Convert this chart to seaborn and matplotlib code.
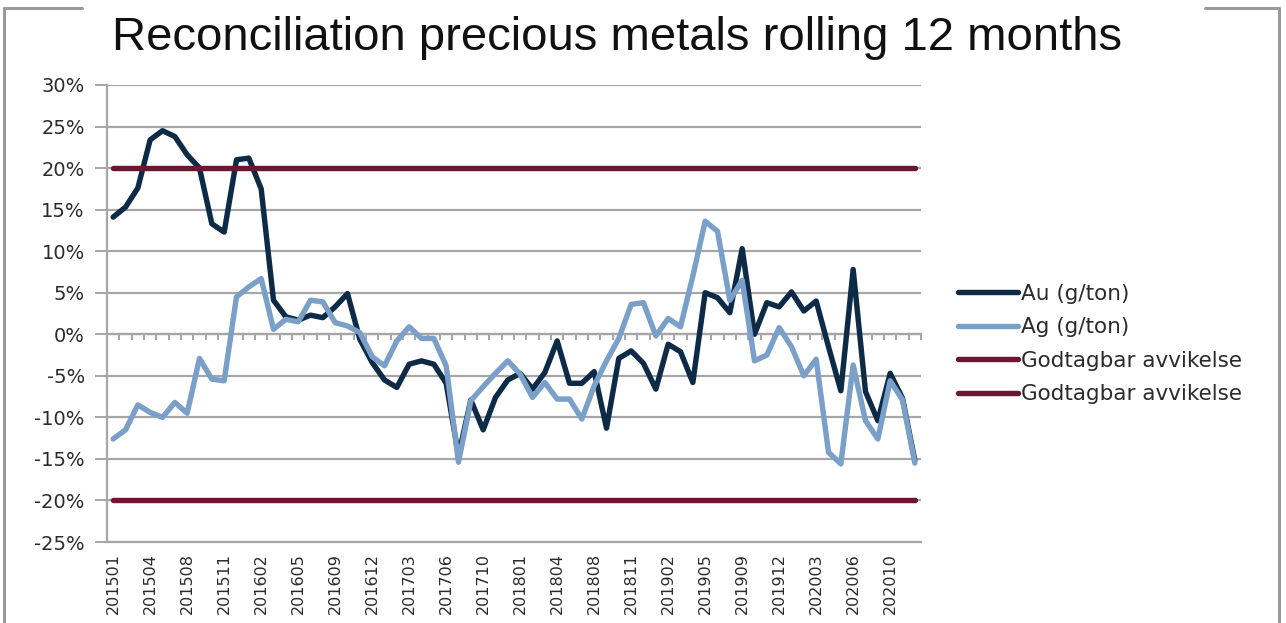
import numpy as np
import pandas as pd
import matplotlib
matplotlib.use("Agg")
import matplotlib.pyplot as plt
from matplotlib.lines import Line2D
from matplotlib.ticker import FuncFormatter
import seaborn as sns

# Reporting periods (no July reporting)
periods = [
    "201501", "201502", "201503", "201504", "201505", "201506", "201508", "201509", "201510", "201511", "201512",
    "201601", "201602", "201603", "201604", "201605", "201606", "201608", "201609", "201610", "201611", "201612",
    "201701", "201702", "201703", "201704", "201705", "201706", "201708", "201709", "201710", "201711", "201712",
    "201801", "201802", "201803", "201804", "201805", "201806", "201808", "201809", "201810", "201811", "201812",
    "201901", "201902", "201903", "201904", "201905", "201906", "201908", "201909", "201910", "201911", "201912",
    "202001", "202002", "202003", "202004", "202005", "202006", "202008", "202009", "202010", "202011", "202012",
]

# Rolling 12-month reconciliation deviation, percent
au_dev = [
    14.1, 15.3, 17.6, 23.4, 24.5, 23.8, 21.6, 20.0, 13.3, 12.3, 21.0,
    21.2, 17.5, 4.1, 2.1, 1.7, 2.3, 2.0, 3.3, 4.9, -0.6, -3.4,
    -5.5, -6.4, -3.6, -3.2, -3.6, -5.9, -14.6, -7.9, -11.5, -7.6, -5.5,
    -4.7, -6.6, -4.6, -0.8, -5.9, -5.9, -4.5, -11.3, -2.9, -2.0, -3.5,
    -6.6, -1.2, -2.1, -5.8, 5.0, 4.4, 2.6, 10.3, 0.0, 3.8, 3.3,
    5.1, 2.8, 4.0, -1.5, -6.8, 7.8, -6.9, -10.4, -4.7, -7.7, -15.2,
]
ag_dev = [
    -12.6, -11.5, -8.5, -9.4, -10.0, -8.2, -9.5, -2.9, -5.4, -5.6, 4.5,
    5.7, 6.7, 0.6, 1.8, 1.5, 4.1, 3.9, 1.4, 1.0, 0.2, -2.7,
    -3.8, -0.8, 0.9, -0.5, -0.5, -3.8, -15.4, -8.0, -6.3, -4.7, -3.2,
    -4.8, -7.6, -5.8, -7.8, -7.8, -10.2, -6.2, -3.2, -0.5, 3.6, 3.8,
    -0.2, 1.9, 0.9, 7.0, 13.6, 12.4, 4.1, 6.5, -3.2, -2.5, 0.8,
    -1.5, -5.0, -3.0, -14.2, -15.6, -3.7, -10.4, -12.6, -5.6, -7.9, -15.5,
]
tolerance_upper = 20.0
tolerance_lower = -20.0

series_keys = ["Au", "Ag", "upper", "lower"]
series_labels = ["Au (g/ton)", "Ag (g/ton)", "Godtagbar avvikelse", "Godtagbar avvikelse"]
series_colors = ["#0d2a47", "#7a9fc9", "#6a1731", "#6a1731"]

n = len(periods)
wide = pd.DataFrame({
    "pos": np.arange(n),
    "Au": au_dev,
    "Ag": ag_dev,
    "upper": tolerance_upper,
    "lower": tolerance_lower,
})
long = wide.melt(id_vars="pos", var_name="series", value_name="deviation")

sns.set_theme(style="white")
plt.rcParams["font.family"] = ["DejaVu Sans"]

W, H = 1286, 623
fig = plt.figure(figsize=(W / 100, H / 100), dpi=100)
fig.patch.set_facecolor("white")
ax = fig.add_axes([107 / W, 1 - 542 / H, (921 - 107) / W, (542 - 85) / H])

grid_color = "#a6a6a6"
for v in np.arange(-25, 31, 5):
    ax.axhline(v, color=grid_color, lw=1.6, zorder=0)

line_w = 3.9
sns.lineplot(
    data=long, x="pos", y="deviation", hue="series", hue_order=series_keys,
    palette=dict(zip(series_keys, series_colors)), linewidth=line_w, sort=False,
    estimator=None, legend=False, ax=ax,
    solid_capstyle="round", solid_joinstyle="round",
)

ax.set_xlim(-0.5, n - 0.5)
ax.set_ylim(-25, 30)
ax.set_yticks(np.arange(-25, 31, 5))
ax.yaxis.set_major_formatter(FuncFormatter(lambda v, _: f"{v:.0f}%"))
ax.set_xticks(np.arange(0, n, 3))
ax.set_xticklabels([periods[i] for i in range(0, n, 3)], rotation=90)
ax.set_xlabel("")
ax.set_ylabel("")

for side in ["top", "right"]:
    ax.spines[side].set_visible(False)
for side in ["left", "bottom"]:
    ax.spines[side].set_color(grid_color)
    ax.spines[side].set_linewidth(1.6)

ax.tick_params(axis="y", direction="out", length=9, width=1.4, color=grid_color,
               labelsize=14, labelcolor="#2b2b2b", pad=7, left=True)
ax.tick_params(axis="x", length=0, labelsize=11.5, labelcolor="#2b2b2b", pad=8)

# Category axis crossing at 0% with tick marks between categories
zero_axis = ax.secondary_xaxis(25 / 55)
zero_axis.set_xticks(np.arange(-0.5, n, 1))
zero_axis.tick_params(axis="x", direction="out", length=4, width=1.4, color=grid_color,
                      labelbottom=False, labeltop=False)
zero_axis.spines["bottom"].set_color(grid_color)
zero_axis.spines["bottom"].set_linewidth(1.6)

handles = [Line2D([0], [0], color=c, lw=line_w, solid_capstyle="round") for c in series_colors]
fig.legend(handles, series_labels, loc="upper left", bbox_to_anchor=(958 / W, 1 - 284 / H),
           frameon=False, fontsize=15.5, handlelength=2.8, handletextpad=0.12,
           labelspacing=0.62, borderpad=0, borderaxespad=0, labelcolor="#2b2b2b")

fig.text(617 / W, 1 - 38 / H, "Reconciliation precious metals rolling 12 months",
         ha="center", va="center", fontsize=34, family="Liberation Sans", color="#111111")

# Chart frame
frame_kw = dict(transform=fig.transFigure, color="#9a9a9a", lw=2.2)
fig.add_artist(Line2D([4 / W, 4 / W], [0, 1 - 8 / H], **frame_kw))
fig.add_artist(Line2D([4 / W, 82 / W], [1 - 8 / H, 1 - 8 / H], **frame_kw))
fig.add_artist(Line2D([1205 / W, 1279 / W], [1 - 8 / H, 1 - 8 / H], **frame_kw))
fig.add_artist(Line2D([1279 / W, 1279 / W], [0, 1 - 8 / H], **frame_kw))

fig.savefig("out.png", dpi=100, facecolor="white")
